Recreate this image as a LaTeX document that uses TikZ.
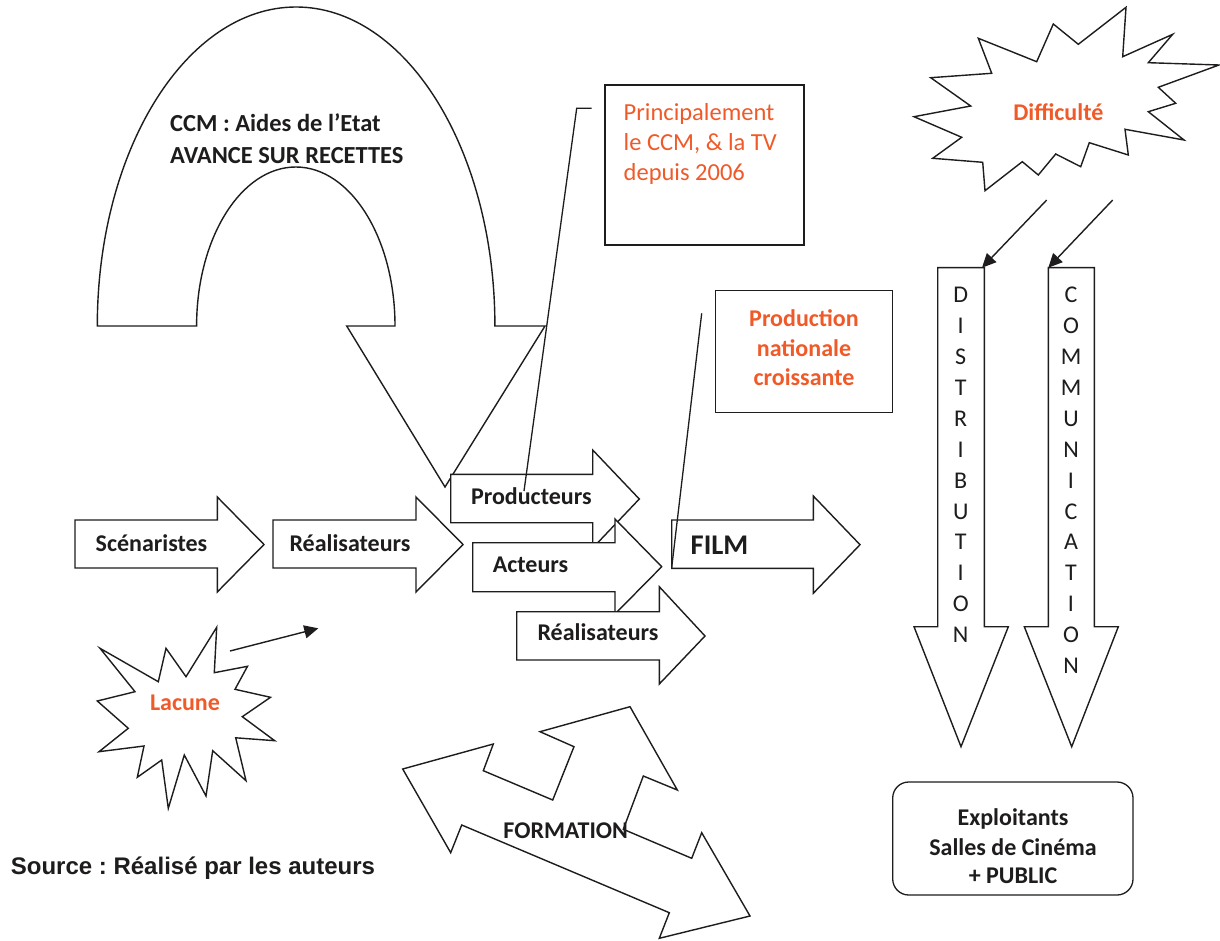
\documentclass[tikz,border=0pt]{standalone}
\usepackage{fontspec}
\setmainfont{Carlito}
\newfontfamily\arialfont{Liberation Sans}
\usetikzlibrary{arrows.meta}
\definecolor{orng}{RGB}{240,90,40}
\definecolor{ink}{RGB}{30,28,28}
\frenchspacing
\begin{document}
\begin{tikzpicture}[x=1pt,y=1pt,yscale=-1,
  shp/.style={draw=ink,line width=1.4pt,fill=white,line join=miter},
  ln/.style={draw=ink,line width=1.3pt},
  arr/.style={draw=ink,line width=1.4pt,-{Triangle[length=14pt,width=13pt]}},
  bl/.style={font=\fontsize{24}{30}\selectfont\bfseries,text=ink,anchor=base,inner sep=0pt},
  blw/.style={bl,anchor=base west},
  ol/.style={font=\fontsize{24.5}{30}\selectfont,text=orng,anchor=base west,inner sep=0pt},
  obl/.style={font=\fontsize{24}{30}\selectfont\bfseries,text=orng,anchor=base,inner sep=0pt},
  vl/.style={font=\fontsize{24}{30}\selectfont,text=ink,anchor=base,inner sep=0pt}]
\useasboundingbox (0,0) rectangle (1220,941);
\fill[white] (0,0) rectangle (1220,941);

% U-turn arrow
\draw[shp] (97.3,326) arc[start angle=180,end angle=360,x radius=198.8,y radius=319]
  -- (545,326) -- (445,487) -- (346.7,326) -- (395,326)
  arc[start angle=360,end angle=180,x radius=99.2,y radius=159] -- cycle;
\node[blw,font=\fontsize{24.5}{30}\selectfont\bfseries] (ccm1) at (170,131.7) {CCM : Aides de l’Etat};
\node[blw,font=\fontsize{24.5}{30}\selectfont\bfseries] (ccm2) at (170,163.3) {AVANCE SUR RECETTES};

% horizontal block arrows
\draw[shp] (75,520) -- (217.3,520) -- (217.3,497) -- (264,544.5) -- (217.3,592) -- (217.3,568) -- (75,568) -- cycle;
\node[bl] (scen) at (151.5,551) {Scénaristes};
\draw[shp] (273,520) -- (416,520) -- (416,497) -- (463,544.5) -- (416,592) -- (416,568) -- (273,568) -- cycle;
\node[bl] (real1) at (350,551) {Réalisateurs};
\draw[shp] (450.7,474.3) -- (592.7,474.3) -- (592.7,450) -- (639.3,499) -- (592.7,548) -- (592.7,522.7) -- (450.7,522.7) -- cycle;
\node[bl] (prod) at (531.3,504.3) {Producteurs};
\draw[shp] (472.7,542.7) -- (615,542.7) -- (615,519) -- (661.7,566.7) -- (615,614) -- (615,591.7) -- (472.7,591.7) -- cycle;
\node[bl] (act) at (530.5,572.7) {Acteurs};
\draw[shp] (516.7,611.7) -- (659.3,611.7) -- (659.3,586.7) -- (705,636) -- (659.3,684) -- (659.3,660) -- (516.7,660) -- cycle;
\node[bl] (real2) at (598,640) {Réalisateurs};
\draw[shp] (671.7,520) -- (813.3,520) -- (813.3,496) -- (860,544.7) -- (813.3,593.3) -- (813.3,568.3) -- (671.7,568.3) -- cycle;
\node[bl,font=\fontsize{28.5}{32}\selectfont\bfseries] (film) at (719.5,554.3) {FILM};

% callout boxes
\draw[ln] (605,85) rectangle (804,245);
\node[ol] (pr1) at (623.5,120.5) {Principalement};
\node[ol] (pr2) at (623.5,150.8) {le CCM, \& la TV};
\node[ol] (pr3) at (623.5,180.5) {depuis 2006};
\coordinate (c1a) at (591.7,108.3);
\coordinate (c1b) at (576.7,108.3);
\coordinate (c1c) at (524,491);
\draw[ln] (c1a) -- (c1b) -- (c1c);

\draw[ln] (715.7,290.7) rectangle (892.7,412.3);
\node[obl] (pn1) at (804,326) {Production};
\node[obl] (pn2) at (804,356.3) {nationale};
\node[obl] (pn3) at (804,385.6) {croissante};
\coordinate (c2a) at (701.7,313.3);
\coordinate (c2b) at (671.7,567.5);
\draw[ln] (c2a) -- (c2b);

% Difficulte star
\draw[shp] (1126,7.3) -- (1122.7,56.7) -- (1172.7,34.3) -- (1148.3,62.7) -- (1219,65)
  -- (1158.3,87.3) -- (1175.7,103.3) -- (1148.3,111.7) -- (1184,140) -- (1125,129.3)
  -- (1128.3,155) -- (1089.3,142.7) -- (1080.7,166.7) -- (1055.7,154) -- (1038.3,175)
  -- (1022.3,161.7) -- (985,190.7) -- (982.7,162.3) -- (932.7,158.3) -- (961.7,137.3)
  -- (914,116.7) -- (970.7,106) -- (930.7,77.7) -- (991.7,73.3) -- (978.3,38.3)
  -- (1036.7,61.7) -- (1053.3,24) -- (1078.3,44.3) -- cycle;
\node[obl] (diff) at (1058.3,120.7) {Difficulté};

% vertical arrows
\draw[shp] (937.7,267.7) -- (984.3,267.7) -- (984.3,626.7) -- (1008.3,626.7) -- (961,746.7) -- (914,626.7) -- (937.7,626.7) -- cycle;
\draw[shp] (1048.3,267.7) -- (1094.3,267.7) -- (1094.3,626.7) -- (1118.3,626.7) -- (1071.7,746.7) -- (1024.3,626.7) -- (1048.3,626.7) -- cycle;
\foreach \l [count=\i from 0] in {D,I,S,T,R,I,B,U,T,I,O,N}
  \node[vl] (d\i) at (960.7,302.7+30.9*\i) {\l};
\foreach \l [count=\i from 0] in {C,O,M,M,U,N,I,C,A,T,I,O,N}
  \node[vl] (m\i) at (1071,302.7+30.9*\i) {\l};

\coordinate (da1) at (1046.7,200);
\coordinate (da2) at (982,267.7);
\coordinate (db1) at (1112.7,200);
\coordinate (db2) at (1048.3,267.7);
\draw[arr] (da1) -- (da2);
\draw[arr] (db1) -- (db2);

% Exploitants
\draw[ln,rounded corners=16pt] (892.7,782) rectangle (1133,895);
\node[bl] (ex1) at (1013,825) {Exploitants};
\node[bl] (ex2) at (1013,855) {Salles de Cinéma};
\node[bl] (ex3) at (1013,883.3) {+ PUBLIC};

% Lacune star
\draw[shp] (216.7,627.3) -- (214.3,672.7) -- (247.5,666.3) -- (235,689.3) -- (270.5,697.3)
  -- (242.3,716.7) -- (274.7,740.7) -- (235.7,737.8) -- (246,780.7) -- (212.7,750.7)
  -- (206,796) -- (184.3,755) -- (168.3,808.3) -- (161.7,760) -- (137.3,777.3)
  -- (144,746) -- (99,751.7) -- (128.3,728.3) -- (97.3,701) -- (135,691.7)
  -- (100,648.3) -- (158.3,681.7) -- (166,648.3) -- (186,676.7) -- cycle;
\node[obl] (lac) at (185,710) {Lacune};
\coordinate (la1) at (230,651);
\coordinate (la2) at (318.3,628.3);
\draw[arr] (la1) -- (la2);

% FORMATION arrow
\draw[shp] (402.7,769) -- (493.3,744) -- (483.3,770.7) -- (552.7,800) -- (574,746.7)
  -- (540,731.7) -- (630,706.7) -- (677.3,790) -- (643.3,776) -- (623.3,829.3)
  -- (691.7,858.3) -- (701.7,832.7) -- (750,916) -- (659.3,938.3) -- (669.3,912.7)
  -- (461.7,825) -- (450.7,852.7) -- cycle;
\node[bl] (form) at (565.7,838.3) {FORMATION};

% source
\node[anchor=base west,inner sep=0pt,font=\arialfont\fontsize{24}{28}\selectfont\bfseries,text=ink] (src) at (10.7,874.3) {Source : Réalisé par les auteurs};
\end{tikzpicture}
\end{document}
